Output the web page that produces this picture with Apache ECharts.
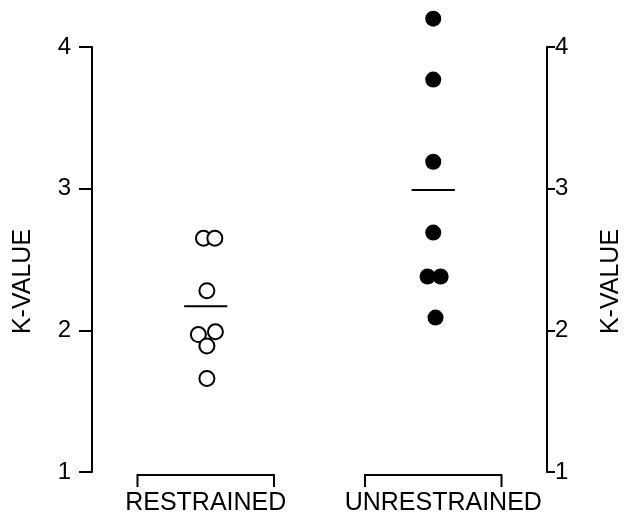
<!DOCTYPE html>
<html>
<head>
<meta charset="utf-8">
<script src="https://cdn.jsdelivr.net/npm/echarts@6/dist/echarts.min.js"></script>
<style>
  html, body { margin: 0; padding: 0; background: #fff; }
  #chart { width: 625px; height: 517px; }
</style>
</head>
<body>
<div id="chart"></div>
<script>
// groups and their x position on the hidden x axis
const groups = ['RESTRAINED', 'UNRESTRAINED'];
const groupX = [1, 3];

// K values, with a small sideways jitter for overlapping dots
const restrainedK = [2.65, 2.65, 2.28, 1.97, 1.99, 1.89, 1.66];
const restrainedDx = [-0.02, 0.08, 0.01, -0.065, 0.085, 0.01, 0.01];
const unrestrainedK = [4.20, 3.77, 3.19, 2.69, 2.38, 2.38, 2.09];
const unrestrainedDx = [0, 0, 0, 0, -0.05, 0.065, 0.02];

// group means (horizontal bars)
const means = [2.17, 2.99];

const yTicks = [1, 2, 3, 4];

const font = 'Liberation Sans';
let chart = echarts.init(document.getElementById('chart'));

let ptsR = restrainedK.map((v, i) => [groupX[0] + restrainedDx[i], v]);
let ptsU = unrestrainedK.map((v, i) => [groupX[1] + unrestrainedDx[i], v]);

// mean bar half width in x units
const half = 0.19;
let meanLines = means.map((m, i) => ({
    type: 'line',
    data: [[groupX[i] - half, m], [groupX[i] + half, m]],
    symbol: 'none',
    lineStyle: {color: '#000', width: 2},
    silent: true,
    z: 1
}));

const labelShift = [0, 10];

let nameStyle = {fontFamily: font, fontSize: 25, color: '#000', padding: [0, 44, 0, 0]};

let yAxisBase = {
    type: 'value',
    min: yTicks[0],
    max: yTicks[yTicks.length - 1],
    interval: 1,
    name: 'K-VALUE',
    nameLocation: 'middle',
    nameRotate: 90,
    nameTextStyle: nameStyle,
    axisLine: {show: true, lineStyle: {color: '#000', width: 2}},
    splitLine: {show: false}
};

let option = {
    animation: false,
    backgroundColor: '#fff',
    grid: {left: 92, right: 78, top: 47, bottom: 45, outerBoundsMode: 'none', containLabel: false},
    xAxis: {
        type: 'value',
        min: 0,
        max: 4,
        show: false
    },
    yAxis: [
        Object.assign({}, yAxisBase, {
            position: 'left',
            nameGap: 56,
            axisTick: {show: true, length: 13, lineStyle: {color: '#000', width: 2}},
            axisLabel: {fontFamily: font, fontSize: 24, color: '#000', margin: 21}
        }),
        Object.assign({}, yAxisBase, {
            position: 'right',
            nameGap: 52,
            axisTick: {show: true, length: 8, lineStyle: {color: '#000', width: 2}},
            axisLabel: {fontFamily: font, fontSize: 24, color: '#000', margin: 8}
        })
    ],
    series: [
        {
            name: 'restrained',
            type: 'scatter',
            data: ptsR,
            clip: false,
            symbol: 'circle',
            symbolSize: 15,
            itemStyle: {color: '#fff', borderColor: '#000', borderWidth: 2, opacity: 1},
            z: 3
        },
        {
            name: 'unrestrained',
            type: 'scatter',
            data: ptsU,
            clip: false,
            symbol: 'circle',
            symbolSize: 16,
            itemStyle: {color: '#000', opacity: 1},
            z: 3
        },
        ...meanLines,
        {
            // brackets and group names under the plot
            type: 'custom',
            clip: false,
            silent: true,
            data: groupX.map(x => [x]),
            encode: {x: 0},
            renderItem: function (params, api) {
                let i = params.dataIndex;
                let x = api.value(0);
                let a = api.coord([x - 0.6, yTicks[0]]);
                let b = api.coord([x + 0.6, yTicks[0]]);
                let y = a[1];
                return {
                    type: 'group',
                    children: [
                        {
                            type: 'polyline',
                            shape: {points: [[a[0], y + 15], [a[0], y + 3], [b[0], y + 3], [b[0], y + 15]]},
                            style: {stroke: '#000', lineWidth: 2, fill: null}
                        },
                        {
                            type: 'text',
                            style: {
                                text: groups[i],
                                x: (a[0] + b[0]) / 2 + labelShift[i],
                                y: y + 31,
                                align: 'center',
                                verticalAlign: 'middle',
                                font: '25px "' + font + '"',
                                fill: '#000'
                            }
                        }
                    ]
                };
            }
        }
    ]
};

chart.setOption(option);
</script>
</body>
</html>
